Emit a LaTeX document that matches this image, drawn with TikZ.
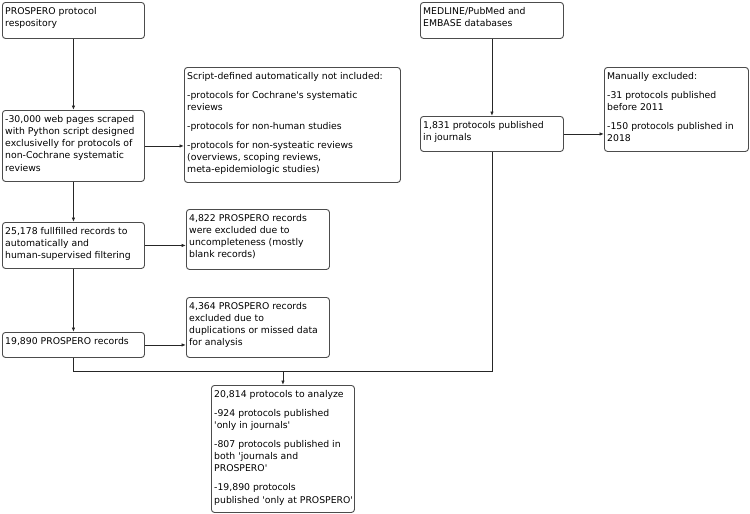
\documentclass[tikz,border=0pt]{standalone}
\usepackage{fontspec}
\newfontfamily\df{DejaVu Sans}
\usetikzlibrary{arrows.meta}
\newcommand{\mkbox}[6]{%
  \node[bx,anchor=north west,minimum width={#4pt-#2pt},minimum height={#5pt-#3pt}] (#1) at (#2,#3) {};
  \node[txt,anchor=north west] at ([xshift=3pt,yshift=-4pt]#1.north west)
  {\parbox[t]{300pt}{\df\fontsize{9.3}{12.2}\selectfont\raggedright\rule{0pt}{8pt}#6}};}
\begin{document}
\begin{tikzpicture}[x=1pt,y=-1pt,
  bx/.style={draw=black!70, line width=0.9pt, rounded corners=3pt, inner sep=0pt, fill=white},
  txt/.style={inner sep=0pt, text=black},
  ln/.style={draw=black!85, line width=0.9pt},
  arr/.style={ln,-{Latex[length=4.5pt,width=3.5pt]}}]
\fill[white] (0,0) rectangle (750,514);
\useasboundingbox (0,0) rectangle (750,514);

\mkbox{A}{2}{2}{144}{38}{PROSPERO protocol\\respository}
\mkbox{B}{2}{110}{144}{181}{-30,000 web pages scraped\\with Python script designed\\exclusivelly for protocols of\\non-Cochrane systematic\\reviews}
\mkbox{C}{184}{67}{400}{182}{Script-defined automatically not included:\\[6.8pt]-protocols for Cochrane's systematic\\reviews\\[6.8pt]-protocols for non-human studies\\[6.8pt]-protocols for non-systeatic reviews\\(overviews, scoping reviews,\\meta-epidemiologic studies)}
\mkbox{D}{2}{222}{144}{268}{25,178 fullfilled records to\\automatically and\\human-supervised filtering}
\mkbox{E}{186}{209}{329}{269}{4,822 PROSPERO records\\were excluded due to\\uncompleteness (mostly\\blank records)}
\mkbox{F}{186}{297}{329}{357}{4,364 PROSPERO records\\excluded due to\\duplications or missed data\\for analysis}
\mkbox{G}{2}{332}{144}{357}{19,890 PROSPERO records}
\mkbox{H}{420}{2}{563}{38}{MEDLINE/PubMed and\\EMBASE databases}
\mkbox{I}{420}{116}{563}{151}{1,831 protocols published\\in journals}
\mkbox{J}{604}{67}{748}{151}{Manually excluded:\\[6.8pt]-31 protocols published\\before 2011\\[6.8pt]-150 protocols published in\\2018}
\mkbox{K}{211}{385}{354}{512}{20,814 protocols to analyze\\[6.8pt]-924 protocols published\\'only in journals'\\[6.8pt]-807 protocols published in\\both 'journals and\\PROSPERO'\\[6.8pt]-19,890 protocols\\published 'only at PROSPERO'}

\draw[arr] (A.south) -- (B.north);
\draw[arr] (B.east) -- (B.east -| C.west);
\draw[arr] (B.south) -- (D.north);
\draw[arr] (D.east) -- (D.east -| E.west);
\draw[arr] (D.south) -- (G.north);
\draw[arr] (G.east) -- (G.east -| F.west);
\draw[arr] (H.south) -- (I.north);
\draw[arr] (I.east) -- (I.east -| J.west);
\path (K.north) ++(0,-13.6) coordinate (m);
\draw[ln] (G.south) |- (m);
\draw[ln] (m) -| (I.south);
\draw[arr] (m) -- (K.north);
\end{tikzpicture}
\end{document}
